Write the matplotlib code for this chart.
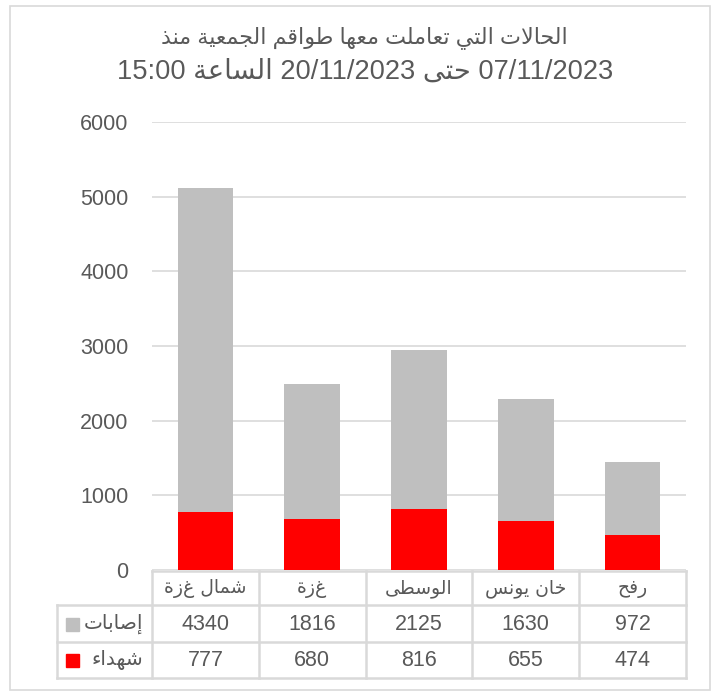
import matplotlib; matplotlib.use("Agg")
import matplotlib.pyplot as plt
import matplotlib.transforms as mtrans
from matplotlib.patches import Rectangle
import numpy as np

plt.rcParams.update({"font.family": ["Liberation Sans", "DejaVu Sans"], "font.size": 14})

GREY = "#bfbfbf"; RED = "#ff0000"; TXT = "#595959"; GRID = "#d9d9d9"

title1 = "الحالات التي تعاملت معها طواقم الجمعية منذ"
title2 = "07/11/2023 حتى 20/11/2023 الساعة 15:00"
regions = ["شمال غزة", "غزة", "الوسطى", "خان يونس", "رفح"]
injured = [4340, 1816, 2125, 1630, 972]
killed = [777, 680, 816, 655, 474]
series_names = ["إصابات", "شهداء"]
yticks = [0, 1000, 2000, 3000, 4000, 5000, 6000]

# --- minimal arabic shaping (matplotlib has no bidi / joining support) ---
FORMS = {'ء': (0xFE80, 1), 'إ': (0xFE87, 2), 'ا': (0xFE8D, 2), 'ب': (0xFE8F, 4), 'ة': (0xFE93, 2),
         'ت': (0xFE95, 4), 'ج': (0xFE9D, 4), 'ح': (0xFEA1, 4), 'خ': (0xFEA5, 4), 'د': (0xFEA9, 2),
         'ذ': (0xFEAB, 2), 'ر': (0xFEAD, 2), 'س': (0xFEB1, 4), 'ش': (0xFEB5, 4), 'ص': (0xFEB9, 4),
         'ط': (0xFEC1, 4), 'ع': (0xFEC9, 4), 'غ': (0xFECD, 4), 'ف': (0xFED1, 4), 'ق': (0xFED5, 4),
         'ل': (0xFEDD, 4), 'م': (0xFEE1, 4), 'ن': (0xFEE5, 4), 'ه': (0xFEE9, 4), 'و': (0xFEED, 2),
         'ى': (0xFEEF, 2), 'ي': (0xFEF1, 4)}

def shape_word(w):
    toks = []; i = 0
    while i < len(w):
        if w[i] == 'ل' and i + 1 < len(w) and w[i + 1] in 'اإ':
            toks.append(w[i:i + 2]); i += 2
        else:
            toks.append(w[i]); i += 1
    jn = lambda t: len(t) == 1 and t in FORMS and FORMS[t][1] == 4
    jp = lambda t: len(t) == 2 or (t in FORMS and FORMS[t][1] >= 2)
    out = []
    for k, t in enumerate(toks):
        prev = k > 0 and jn(toks[k - 1]) and jp(t)
        nxt = k < len(toks) - 1 and jn(t) and jp(toks[k + 1])
        if len(t) == 2:
            out.append(chr((0xFEFB if t[1] == 'ا' else 0xFEF9) + (1 if prev else 0))); continue
        if t not in FORMS:
            out.append(t); continue
        start, nf = FORMS[t]
        if nf == 4: idx = 3 if prev and nxt else 2 if nxt else 1 if prev else 0
        elif nf == 2: idx = 1 if prev else 0
        else: idx = 0
        out.append(chr(start + idx))
    return "".join(reversed(out))

def rtl(s):
    return " ".join(shape_word(t) if any(c in FORMS for c in t) else t for t in reversed(s.split(" ")))

W, H = 718, 693
fig = plt.figure(figsize=(W / 100, H / 100), dpi=100)
fx = lambda x: x / W
fy = lambda y: 1 - y / H
ax = fig.add_axes([fx(152), fy(570), fx(686) - fx(152), (570 - 122) / H])

x = np.arange(len(regions))
bw = 0.52
ax.bar(x, killed, bw, color=RED, zorder=3)
ax.bar(x, injured, bw, bottom=killed, color=GREY, zorder=3)
ax.set_xlim(-0.5, len(regions) - 0.5)
ax.set_ylim(0, 6000)
ax.set_yticks(yticks)
ax.set_yticklabels([str(v) for v in yticks], color=TXT, fontsize=15.5)
ax.tick_params(axis="y", length=0, pad=17)
ax.set_xticks([])
for s in ax.spines.values(): s.set_visible(False)
ax.grid(axis="y", color=GRID, lw=1.2, zorder=0)

fig.text(0.508, fy(38), rtl(title1), ha="center", va="center", fontsize=16, color=TXT)
fig.text(0.508, fy(72), rtl(title2), ha="center", va="center", fontsize=19.6, color=TXT)

# --- data table under the chart ---
tr = mtrans.blended_transform_factory(ax.transData, fig.transFigure)
rows_y = [571, 605, 642, 678]
kw = dict(color=GRID, lw=1.8, clip_on=False, transform=fig.transFigure)
fig.add_artist(plt.Line2D([fx(152), fx(686)], [fy(rows_y[0])] * 2, **kw))
for ry in rows_y[1:]:
    fig.add_artist(plt.Line2D([fx(57), fx(686)], [fy(ry)] * 2, **kw))
fig.add_artist(plt.Line2D([fx(57), fx(57)], [fy(rows_y[1]), fy(rows_y[3])], **kw))
for b in np.arange(len(regions) + 1) - 0.5:
    ax.plot([b, b], [fy(rows_y[0]), fy(rows_y[3])], color=GRID, lw=1.8, clip_on=False, transform=tr)

for i, name in enumerate(regions):
    ax.text(i, fy(588), rtl(name), transform=tr, ha="center", va="center",
            fontsize=13.5, color=TXT, family="DejaVu Sans")
    ax.text(i, fy(624), str(injured[i]), transform=tr, ha="center", va="center",
            fontsize=15.5, color=TXT)
    ax.text(i, fy(660), str(killed[i]), transform=tr, ha="center", va="center",
            fontsize=15.5, color=TXT)
for name, col, yc in [(series_names[0], GREY, 624), (series_names[1], RED, 660)]:
    fig.text(fx(143), fy(yc), rtl(name), ha="right", va="center", fontsize=14.5, color=TXT,
             family="DejaVu Sans")
    fig.add_artist(Rectangle((fx(66), fy(yc + 7)), 13 / W, 13 / H, color=col, transform=fig.transFigure))

fig.add_artist(Rectangle((fx(10), fy(690)), fx(710) - fx(10), (690 - 6) / H, fill=False,
                         ec=GRID, lw=1.2, transform=fig.transFigure))
fig.savefig("out.png", dpi=100)
